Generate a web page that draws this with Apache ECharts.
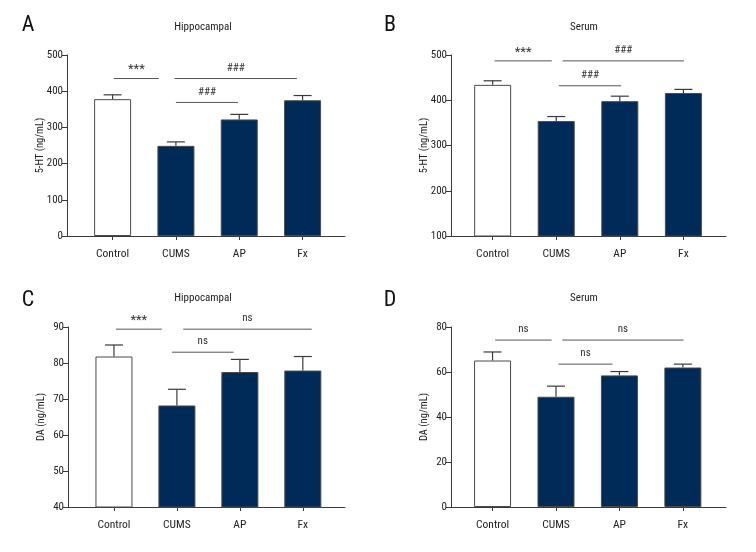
<!DOCTYPE html>
<html>
<head>
<meta charset="utf-8">
<script src="https://cdn.jsdelivr.net/npm/echarts@6/dist/echarts.min.js"></script>
<style>
html,body{margin:0;padding:0;background:#fff;}
#chart{width:756px;height:552px;}
</style>
</head>
<body>
<div id="chart"></div>
<script>
// ---------- data ----------
const categories = ['Control', 'CUMS', 'AP', 'Fx'];

const meanA = [378, 249, 322, 375];
const errA  = [390, 260, 336, 388];
const meanB = [434, 354, 398, 416];
const errB  = [443, 364, 409, 424];
const meanC = [81.8, 68.2, 77.5, 77.9];
const errC  = [85.0, 72.7, 81.0, 81.8];
const meanD = [65.1, 49.0, 58.5, 62.0];
const errD  = [68.9, 53.7, 60.2, 63.5];

// significance annotations: [from (category index), to, level, label]
const sigA = [[0.02, 0.73, 435, '***'], [0.98, 2.91, 435, '###'], [1.0, 1.98, 369, '###']];
const sigB = [[0.03, 0.93, 487, '***'], [1.1, 3.01, 487, '###'], [1.04, 2.02, 432, '###']];
const sigC = [[0.03, 0.76, 89.4, '***'], [1.1, 3.14, 89.4, 'ns'], [0.92, 1.9, 83.0, 'ns']];
const sigD = [[0.04, 0.93, 74.2, 'ns'], [1.1, 3.01, 74.2, 'ns'], [1.04, 1.89, 63.5, 'ns']];

const panelTitles = ['Hippocampal', 'Serum', 'Hippocampal', 'Serum'];
const panelLetters = ['A', 'B', 'C', 'D'];
const yNames = ['5-HT (ng/mL)', '5-HT (ng/mL)', 'DA (ng/mL)', 'DA (ng/mL)'];
const yRanges = [[0, 500, 100], [100, 500, 100], [40, 90, 10], [0, 80, 20]];

// ---------- styling ----------
const FONT = "'Liberation Sans Narrow', 'Arial Narrow', 'Noto Sans Condensed', 'Roboto Condensed', 'DejaVu Sans Condensed', sans-serif";
const NAVY = '#002a57';
const AX = '#3a3a3a';

const grids = [
  {left: 67, top: 55, width: 278, height: 181},
  {left: 451, top: 55, width: 275, height: 181},
  {left: 68, top: 327, width: 277, height: 180},
  {left: 451, top: 327, width: 275, height: 180}
];
const xRanges = [[-0.72, 3.67], [-0.655, 3.67], [-0.73, 3.67], [-0.655, 3.68]];

const means = [meanA, meanB, meanC, meanD];
const errs = [errA, errB, errC, errD];
const sigs = [sigA, sigB, sigC, sigD];

const xAxes = [], yAxes = [], series = [], graphics = [];

for (let i = 0; i < 4; i++) {
  xAxes.push({
    type: 'value', gridIndex: i, min: xRanges[i][0], max: xRanges[i][1],
    splitLine: {show: false},
    axisLine: {show: true, onZero: false, lineStyle: {color: AX, width: 1}},
    axisTick: {show: true, customValues: [0, 1, 2, 3], length: 4, lineStyle: {color: AX}},
    axisLabel: {customValues: [0, 1, 2, 3], formatter: v => categories[Math.round(v)],
      fontFamily: FONT, fontSize: 11.5, color: '#222', margin: 12}
  });
  yAxes.push({
    type: 'value', gridIndex: i, min: yRanges[i][0], max: yRanges[i][1], interval: yRanges[i][2],
    name: yNames[i], nameLocation: 'middle', nameGap: 21, nameMoveOverlap: false,
    nameTextStyle: {fontFamily: FONT, fontSize: 10.5, color: '#222'},
    splitLine: {show: false},
    axisLine: {show: true, onZero: false, lineStyle: {color: AX, width: 1}},
    axisTick: {show: true, length: 5, lineStyle: {color: AX}},
    axisLabel: {fontFamily: FONT, fontSize: 11, color: '#222', margin: 4}
  });

  series.push({
    type: 'bar', xAxisIndex: i, yAxisIndex: i, barWidth: 37,
    data: means[i].map((v, k) => ({
      value: [k, v],
      itemStyle: {color: k === 0 ? '#ffffff' : NAVY, borderColor: '#4a4a4a', borderWidth: 1}
    })),
    silent: true, animation: false, z: 2
  });

  series.push({
    type: 'custom', xAxisIndex: i, yAxisIndex: i, silent: true, animation: false, z: 3,
    data: means[i].map((v, k) => [k, v, errs[i][k]]),
    renderItem: (params, api) => {
      const p0 = api.coord([api.value(0), api.value(1)]);
      const p1 = api.coord([api.value(0), api.value(2)]);
      const st = {stroke: '#3a3a3a', lineWidth: 1.2};
      return {type: 'group', children: [
        {type: 'line', shape: {x1: p0[0], y1: p0[1], x2: p1[0], y2: p1[1]}, style: st},
        {type: 'line', shape: {x1: p1[0] - 9, y1: p1[1], x2: p1[0] + 9, y2: p1[1]}, style: st}
      ]};
    }
  });

  series.push({
    type: 'custom', xAxisIndex: i, yAxisIndex: i, silent: true, animation: false, z: 4,
    clip: false,
    data: sigs[i].map(s => [s[0], s[2]]),
    renderItem: (params, api) => {
      const item = sigs[i][params.dataIndex];
      const a = api.coord([item[0], item[2]]);
      const b = api.coord([item[1], item[2]]);
      const isStar = item[3] === '***';
      return {type: 'group', children: [
        {type: 'line', shape: {x1: a[0], y1: a[1], x2: b[0], y2: b[1]},
          style: {stroke: '#555', lineWidth: 1}},
        {type: 'text', x: (a[0] + b[0]) / 2, y: a[1] - (isStar ? 2 : 5),
          style: {text: item[3], fill: '#333', font: (isStar ? '13px ' : '11px ') + FONT,
            textAlign: 'center', textVerticalAlign: 'bottom'}}
      ]};
    }
  });
}

const titlePos = [[203, 27], [584, 27], [203, 298], [584, 298]];
const letterPos = [[28, 25], [390, 25], [28, 300], [390, 300]];
for (let i = 0; i < 4; i++) {
  graphics.push({type: 'text', x: titlePos[i][0], y: titlePos[i][1],
    style: {text: panelTitles[i], font: '11px ' + FONT, fill: '#222', textAlign: 'center', textVerticalAlign: 'middle'}});
  graphics.push({type: 'text', x: letterPos[i][0], y: letterPos[i][1],
    style: {text: panelLetters[i], font: '22px ' + FONT, fill: '#111', textAlign: 'center', textVerticalAlign: 'middle'}});
}

const chart = echarts.init(document.getElementById('chart'), null, {renderer: 'canvas'});
chart.setOption({
  backgroundColor: '#ffffff',
  animation: false,
  grid: grids,
  xAxis: xAxes,
  yAxis: yAxes,
  series: series,
  graphic: graphics
});
</script>
</body>
</html>
